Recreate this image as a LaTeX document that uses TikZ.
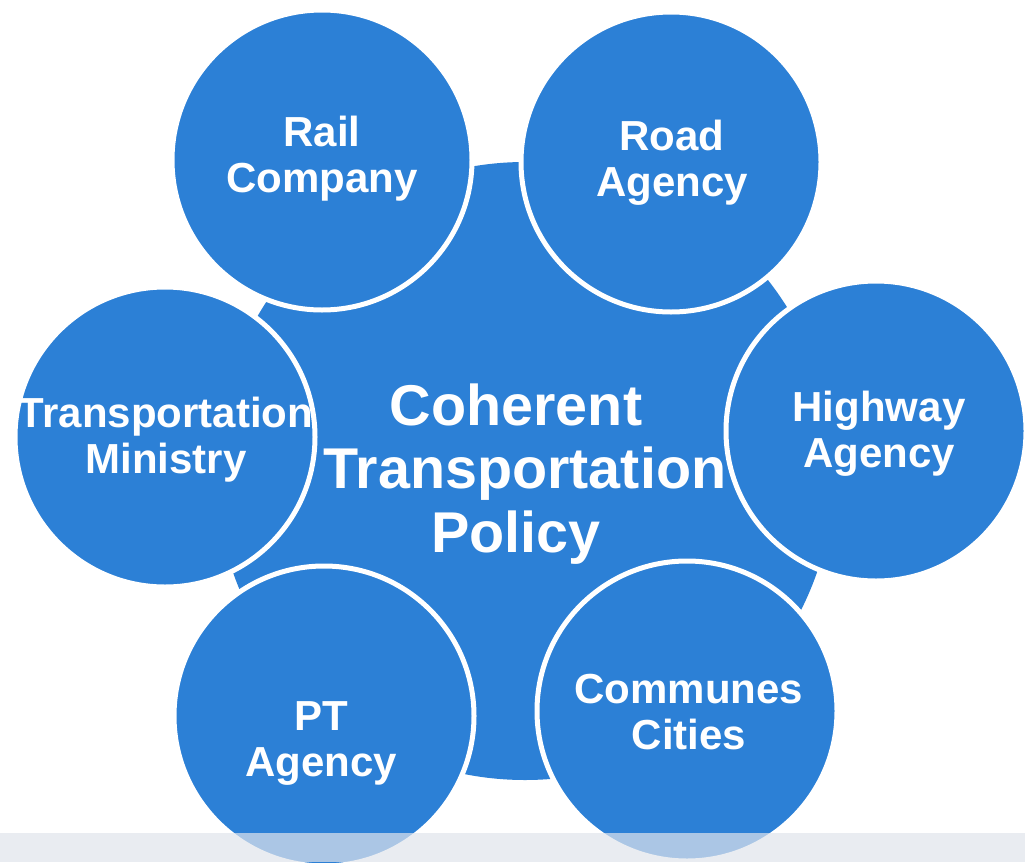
\documentclass[tikz,border=0pt]{standalone}
\usepackage{fontspec}
\setmainfont{Liberation Sans}
\definecolor{cblue}{RGB}{44,128,214}
\definecolor{bandc}{RGB}{225,229,236}
\begin{document}
\begin{tikzpicture}[x=1pt,y=-1pt,
  outer/.style={circle,fill=cblue,draw=white,line width=5pt,minimum size=300pt,inner sep=0pt},
  hub/.style={circle,fill=cblue,minimum size=618pt,inner sep=0pt},
  lbl/.style={text=white,align=center,font=\bfseries\fontsize{42}{46}\selectfont,inner sep=0pt},
  hublbl/.style={text=white,align=center,font=\bfseries\fontsize{57.5}{63.5}\selectfont,inner sep=0pt}]
\useasboundingbox (0,0) rectangle (1025,862);
\fill[white] (0,0) rectangle (1025,862);
\node[hub] (hub) at (525,471) {};
\node[outer] (rail) at (322,160) {};
\node[outer] (road) at (671,162) {};
\node[outer] (highway) at (876,431) {};
\node[outer] (communes) at (687,711) {};
\node[outer] (pt) at (324,716) {};
\node[outer] (ministry) at (165,437) {};
\node[hublbl] (hubT) at (525,474) {Coherent\kern18pt\\Transportation\\Policy\kern18pt};
\node[lbl] (railT) at (322,159) {Rail\\Company};
\node[lbl] (roadT) at (672,163) {Road\\Agency};
\node[lbl] (highwayT) at (879,434) {Highway\\Agency};
\node[lbl] (communesT) at (689,712) {Communes\\Cities};
\node[lbl] (ptT) at (321,743) {PT\\Agency};
\node[lbl] (ministryT) at (166,440) {Transportation\\Ministry};
\fill[bandc,opacity=0.7] (0,833) rectangle (1025,862);
\end{tikzpicture}
\end{document}
